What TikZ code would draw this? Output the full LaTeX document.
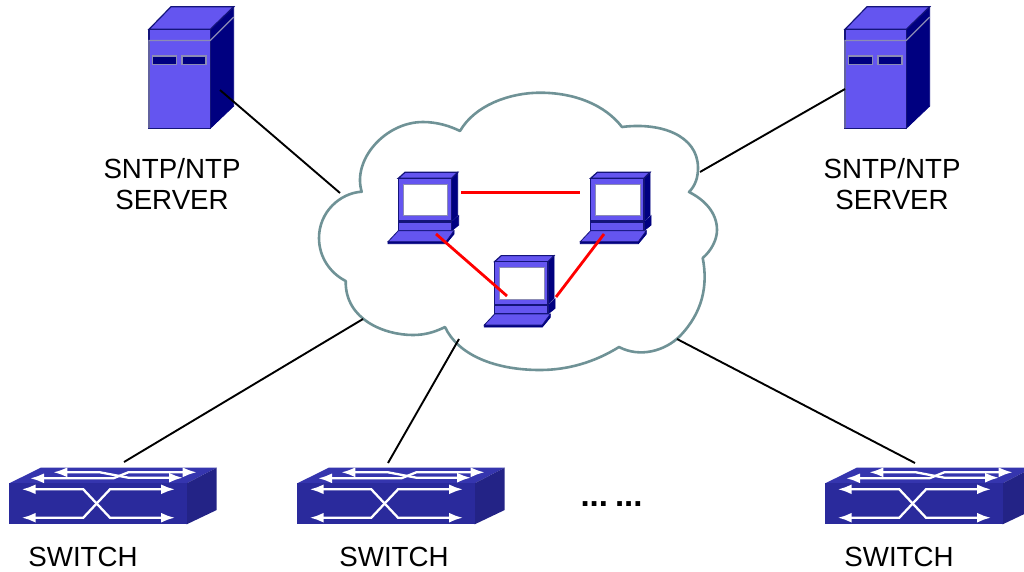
\documentclass[tikz,border=0pt]{standalone}
\usepackage{xcolor}
\usepackage{fontspec}
\setmainfont{Liberation Sans}
\usetikzlibrary{arrows.meta, positioning}

\definecolor{boxface}{HTML}{6455F0}
\definecolor{boxside}{HTML}{000080}
\definecolor{boxedge}{HTML}{14147A}
\definecolor{boxgrey}{HTML}{8C8CB4}
\definecolor{cloudline}{HTML}{6F9296}
\definecolor{swfront}{HTML}{2A2A9C}
\definecolor{swtop}{HTML}{3535AE}
\definecolor{swside}{HTML}{232386}

\tikzset{
  devlabel/.style={font=\fontsize{27.7}{31}\selectfont, align=center, text=black, inner sep=0pt},
  uplink/.style={draw=black, line width=1.9pt},
  peerlink/.style={draw=red, line width=2.8pt},
  swarrow/.style={draw=white, line width=2.3pt, {Latex[length=14pt,width=10pt]}-{Latex[length=14pt,width=10pt]}},
  face/.style={fill=boxface, draw=boxedge, line width=1.2pt},
  dark/.style={fill=boxside, draw=boxside, line width=0.8pt},
  serverpic/.pic={
    \path[dark] (210.3,29.3) -- (233.7,6.7) -- (233.7,106) -- (210.3,128.3) -- cycle;
    \path[face] (149,29.3) -- (171,6.7) -- (233.7,6.7) -- (210.3,29.3) -- cycle;
    \path[face] (149,29.3) rectangle (210.3,128.3);
    \draw[boxgrey, line width=1.3pt] (149,128) -- (149,40.5) -- (210.3,40.5) -- (233.7,17);
    \path[fill=boxside, draw=boxgrey, line width=1.3pt] (152.7,56) rectangle (176.7,64.3);
    \path[fill=boxside, draw=boxgrey, line width=1.3pt] (182,56) rectangle (206,64.3);
  },
  laptoppic/.pic={
    \path[dark] (451.7,178.3) -- (457.7,172.3) -- (457.7,215) -- (451.7,221) -- cycle;
    \path[face] (398.3,178.3) -- (405,172.3) -- (457.7,172.3) -- (451.7,178.3) -- cycle;
    \path[face] (398.3,178.3) rectangle (451.7,221);
    \path[fill=white, draw=boxgrey, line width=1pt] (403.3,184) rectangle (447.7,215.7);
    \path[dark] (451.7,222.3) -- (458.7,215.7) -- (458.7,225) -- (451.7,230.7) -- cycle;
    \path[face] (398.3,222.3) rectangle (451.7,230.7);
    \path[dark] (388,241.7) -- (454,231) -- (454,234) -- (446,243.7) -- (388,243.7) -- cycle;
    \path[fill=boxface, draw=boxedge, line width=0.8pt] (388,241.7) -- (398.3,230.7) -- (454,230.7) -- (446,241.7) -- cycle;
  },
  switchpic/.pic={
    \path[fill=swtop] (9.3,483.3) -- (40.7,467.7) -- (216.7,467.7) -- (186.7,483.3) -- cycle;
    \path[fill=swside] (186.7,483.3) -- (216.7,467.7) -- (216.7,510) -- (186.7,524.3) -- cycle;
    \path[fill=swfront] (9.3,483.3) rectangle (186.7,524.3);
    \draw[swarrow] (53.3,472.3) -- (100,472.3) -- (128.3,477.7) -- (183,477.7);
    \draw[swarrow] (30,478.3) -- (113.3,478.3) -- (128.3,472.3) -- (196.7,472.3);
    \draw[swarrow] (21.7,489.3) -- (83.3,489.3) -- (110,517.7) -- (175,517.7);
    \draw[swarrow] (21.7,517.7) -- (83.3,517.7) -- (110,489.3) -- (175,489.3);
  }
}

\begin{document}
\begin{tikzpicture}[x=1pt, y=-1pt]
    \useasboundingbox (0,0) rectangle (1024,571);

    % cloud
    \draw[cloudline, line width=2.6pt, fill=white, line join=round]
      (361.7,191.7) .. controls (352,160) and (385,122) .. (423,122)
      .. controls (437,122) and (450,126) .. (460,131)
      .. controls (475,105) and (510,92.7) .. (540,92.7)
      .. controls (575,92.7) and (605,105) .. (622,127)
      .. controls (660,122) and (698,135) .. (698,168)
      .. controls (698,178) and (695,186) .. (689,192)
      .. controls (705,200) and (717,213) .. (717,230)
      .. controls (717,240) and (711,251) .. (702.7,258)
      .. controls (708,285) and (703,312) .. (680,336)
      .. controls (665,351) and (640,358) .. (619,347)
      .. controls (595,362) and (568,370) .. (540,370)
      .. controls (495,370) and (458,355) .. (445,327)
      .. controls (435,332) and (425,335) .. (413,335)
      .. controls (385,335) and (345,320) .. (345.7,281)
      .. controls (330,273) and (319,257) .. (319,238)
      .. controls (319,212) and (340,193) .. cycle;

    % devices
    \pic (srvL) at (0,0) {serverpic};
    \pic (srvR) at (696,0) {serverpic};
    \pic (lapA) at (0,0) {laptoppic};
    \pic (lapB) at (192.3,0) {laptoppic};
    \pic (lapC) at (96.3,83.3) {laptoppic};
    \pic (swA) at (0,0) {switchpic};
    \pic (swB) at (288,0) {switchpic};
    \pic (swC) at (816,0) {switchpic};

    % labels
    \node[devlabel] (lblL) at (172,184.5) {SNTP/NTP\\SERVER};
    \node[devlabel] (lblR) at (892,184.5) {SNTP/NTP\\SERVER};
    \node[devlabel] (lblA) at (83,557) {SWITCH};
    \node[devlabel] (lblB) at (394,557) {SWITCH};
    \node[devlabel] (lblC) at (899,557) {SWITCH};
    \node[devlabel, font=\fontsize{33}{33}\selectfont\bfseries] (dots) at (611.5,504) {...\hspace{7pt}...};

    % link ends
    \coordinate (portL) at (220,90);
    \coordinate (cloudL) at (340,193);
    \coordinate (portR) at (845,89);
    \coordinate (cloudR) at (700,172);
    \coordinate (portA) at (124,462);
    \coordinate (cloudA) at (363,319);
    \coordinate (portB) at (388,463);
    \coordinate (cloudB) at (459,339);
    \coordinate (portC) at (915,463);
    \coordinate (cloudC) at (677,339);
    \coordinate (lapAe) at (461,192.7);
    \coordinate (lapBw) at (580,192.7);
    \coordinate (lapAs) at (436,234);
    \coordinate (lapCw) at (507,296);
    \coordinate (lapBs) at (604,234);
    \coordinate (lapCe) at (556,297);

    \draw[uplink] (portL) -- (cloudL);
    \draw[uplink] (portR) -- (cloudR);
    \draw[uplink] (portA) -- (cloudA);
    \draw[uplink] (portB) -- (cloudB);
    \draw[uplink] (portC) -- (cloudC);
    \draw[peerlink] (lapAe) -- (lapBw);
    \draw[peerlink] (lapAs) -- (lapCw);
    \draw[peerlink] (lapBs) -- (lapCe);
\end{tikzpicture}
\end{document}
